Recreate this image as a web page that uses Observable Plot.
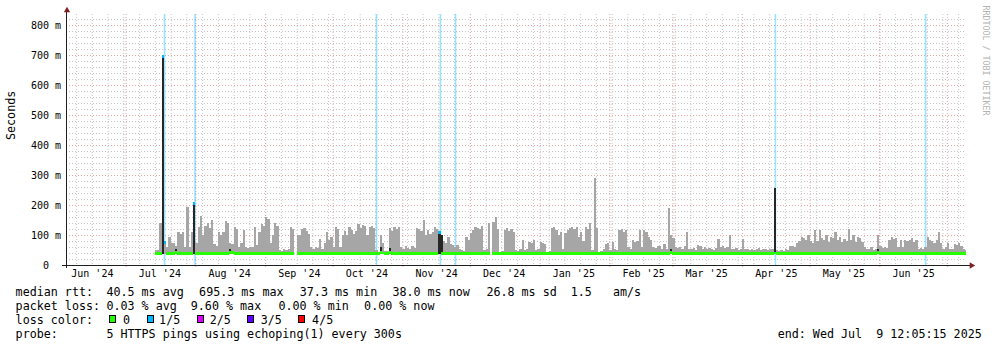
<!DOCTYPE html>
<html><head><meta charset="utf-8">
<script src="https://cdn.jsdelivr.net/npm/d3@7"></script>
<script src="https://cdn.jsdelivr.net/npm/@observablehq/plot@0.6"></script>
<style>
html,body{margin:0;padding:0;background:#fff;}
#chart{position:relative;width:997px;height:347px;overflow:hidden;background:#fff;font-family:"DejaVu Sans Mono",monospace;}
#chart svg{position:absolute;left:0;top:0;}
.t{position:absolute;font-size:11.7px;line-height:14px;white-space:pre;color:#000;}
.box{position:absolute;box-sizing:border-box;width:7px;height:8px;border:1px solid #000;}
</style></head><body><div id="chart"></div>
<script>
// ---- data ----
const startTime = new Date("2024-06-04T12:05:15Z");
const endTime = new Date("2025-07-09T12:05:15Z");
const firstDay = "2024-07-14";
const smokeMin = 37;
// smoke top (ms), one value per day from firstDay
const smokeMax = [
50,50,140,140,75,60,95,73,75,65,110,105,110,60,195,60,110,130,75,127,
165,100,130,140,125,150,70,65,110,100,110,147,140,75,70,127,120,60,75,117,
60,58,60,60,127,67,110,138,130,160,155,73,100,140,130,50,48,52,50,55,
127,120,null,100,100,120,125,115,105,60,55,60,58,88,55,75,110,85,95,60,
127,120,60,100,115,100,127,117,105,115,138,125,133,130,100,127,130,125,50,45,
100,75,47,48,123,115,127,120,127,60,55,65,58,55,62,58,123,120,115,150,
100,117,105,110,127,120,110,100,80,75,95,70,67,60,67,55,50,48,93,85,
107,117,127,123,120,130,50,52,140,null,145,160,120,45,47,117,123,115,120,110,
50,48,55,83,50,52,78,75,85,50,55,78,75,70,45,48,123,127,117,100,
110,55,107,117,125,127,120,127,95,110,80,127,120,140,50,290,123,45,48,55,
70,73,50,78,55,50,117,120,110,118,60,55,82,78,80,117,60,117,110,93,
85,60,58,62,65,55,70,55,190,100,90,60,58,60,55,62,110,55,52,57,
50,67,65,55,60,52,57,55,50,58,88,60,62,58,60,100,55,52,57,50,
55,88,55,52,50,55,50,52,57,50,53,55,50,52,55,60,50,48,50,47,
52,50,62,65,60,73,80,95,90,85,100,80,75,117,80,117,90,85,100,78,
93,90,110,85,93,77,88,80,120,85,100,77,95,90,77,60,55,52,60,50,
55,100,65,58,60,57,85,93,88,90,60,83,60,85,80,83,90,78,85,55,
58,52,60,93,85,80,75,85,110,72,55,60,75,52,55,70,68,72,65,55,50];
// median rtt (ms), one value per day from firstDay
const medianRtt = [
38,38,38,695,75,39,38,38,39,41,38,38,38,38,39,38,38,205,39,38,
38,39,38,38,38,38,39,38,38,38,38,38,39,41,41,38,38,38,38,38,
38,38,38,38,39,38,38,38,38,38,39,38,38,38,38,38,38,38,38,39,
38,38,null,38,38,38,39,38,38,38,38,38,38,38,38,38,39,38,38,38,
38,38,39,38,38,38,38,38,38,38,38,38,38,38,39,38,38,38,38,38,
41,40,38,38,41,39,38,38,38,38,38,38,39,38,38,38,39,38,38,38,
38,39,38,38,38,38,108,38,38,38,38,38,38,38,38,38,38,38,38,38,
38,38,39,38,38,38,38,38,38,null,38,38,38,38,38,39,38,38,38,38,
38,38,38,38,39,38,38,38,38,38,38,38,39,38,38,38,38,38,38,38,
38,38,38,38,38,39,38,38,38,38,38,38,38,38,38,38,38,39,38,38,
38,38,39,38,38,38,38,38,38,38,38,39,38,38,38,38,38,38,39,38,
38,38,38,38,38,39,38,38,38,41,38,38,38,38,38,38,38,38,39,38,
38,38,38,38,38,39,38,38,38,38,38,38,38,38,38,39,38,38,38,38,
38,38,38,38,39,38,38,38,38,38,38,38,38,38,38,40,38,38,38,38,
38,38,38,38,38,38,38,39,38,38,38,38,38,38,38,38,38,39,38,38,
38,38,38,38,38,38,38,38,39,38,38,38,38,38,38,38,38,38,38,38,
38,41,38,38,38,38,38,38,38,38,38,38,38,38,38,38,38,38,38,38,
38,38,38,38,38,38,38,38,38,38,38,38,38,38,38,38,38,38,38,38,38];
// dense (dark) smoke days
const darkDays = ["2024-07-17","2024-07-23","2024-07-31","2024-08-16","2024-10-22","2024-10-26","2024-11-17","2024-11-18","2025-02-28","2025-04-15","2025-05-31"];
const darkTop = [695,55,207,55,60,58,110,100,55,257,55];
// days where the median had packet loss (in fifths)
const lossDays = ["2024-07-17","2024-07-18","2024-07-31","2024-11-17"];
const lossLevel = [1,1,1,1];
// loss background stripes
const lossLineTimes = ["2024-07-18T02:00Z","2024-07-31T15:00Z","2024-10-20T07:00Z","2024-11-17T17:00Z","2024-11-24T10:00Z","2025-04-15T14:00Z","2025-06-21T07:00Z"];
const lossLineLevel = [1,1,1,1,1,1,1];
const lossColors = ["#26ff00","#00b8ff","#dd00ff","#5e00ff","#ff0000"];
const lossLabels = ["0","1/5","2/5","3/5","4/5"];
const yTop = 836.7;
const yTicks = [0,100,200,300,400,500,600,700,800];
const yTickLabels = ["0\u00a0\u00a0","100 m","200 m","300 m","400 m","500 m","600 m","700 m","800 m"];
const monthStarts = ["2024-06-01","2024-07-01","2024-08-01","2024-09-01","2024-10-01","2024-11-01","2024-12-01","2025-01-01","2025-02-01","2025-03-01","2025-04-01","2025-05-01","2025-06-01","2025-07-01"];
const monthLabels = ["Jun '24","Jul '24","Aug '24","Sep '24","Oct '24","Nov '24","Dec '24","Jan '25","Feb '25","Mar '25","Apr '25","May '25","Jun '25"];
const yAxisLabel = "Seconds";
const watermark = "RRDTOOL / TOBI OETIKER";
const rttLabel = "median rtt:";
const rttStats = ["40.5 ms avg","695.3 ms max","37.3 ms min","38.0 ms now","26.8 ms sd","1.5   am/s"];
const lossLabel = "packet loss:";
const lossStats = ["0.03 % avg","9.60 % max","0.00 % min","0.00 % now"];
const colorLabel = "loss color:";
const probeLabel = "probe:";
const probeText = "5 HTTPS pings using echoping(1) every 300s";
const endText = "end: Wed Jul  9 12:05:15 2025";

// ---- build ----
const dayMs = 864e5;
const t0 = new Date(firstDay + "T00:00:00Z").getTime();
const lossMap = new Map(lossDays.map((d, i) => [new Date(d + "T00:00:00Z").getTime(), lossLevel[i]]));
const rows = smokeMax.map((v, i) => {
  const a = t0 + i * dayMs;
  return {x1: new Date(a), x2: new Date(Math.min(a + dayMs, endTime.getTime())), smoke: v, med: medianRtt[i], loss: lossMap.get(a) ?? 0};
});
const darkRows = darkDays.map((d, i) => {
  const a = new Date(d + "T00:00:00Z").getTime();
  return {x1: new Date(a), x2: new Date(a + dayMs), top: darkTop[i]};
});
const xDomain = [startTime, endTime];
const monthDates = monthStarts.map(d => new Date(d + "T00:00:00Z"));
const monthGrid = monthDates.filter(d => d > startTime && d < endTime);
const labelDates = monthDates.slice(0, monthLabels.length).map(d => d3.utcDay.offset(d, 15));
const weekGrid = d3.utcSunday.range(startTime, endTime);
const yMinor = d3.range(20, yTop, 20).filter(v => v % 100 !== 0);
const yMajor = yTicks.filter(v => v > 0);
const lossLines = lossLineTimes.map(s => new Date(s));

const medianMarks = lossColors.map((c, k) =>
  Plot.rect(rows.filter(r => r.med != null && r.loss === k), {
    x1: "x1", x2: "x2", y1: r => r.med - 4.5, y2: r => r.med + 4.5, fill: c, shapeRendering: "crispEdges"
  }));

const chart = Plot.plot({
  width: 997, height: 285,
  marginLeft: 66, marginRight: 31, marginTop: 14, marginBottom: 20,
  x: {type: "utc", domain: xDomain, axis: null},
  y: {domain: [0, yTop], axis: null},
  style: {background: "#fff", fontFamily: '"DejaVu Sans Mono", monospace', fontSize: "10px", color: "#000", overflow: "visible"},
  marks: [
    Plot.ruleY(yMinor, {stroke: "#c6c6c6", strokeDasharray: "1,2"}),
    Plot.ruleX(weekGrid, {stroke: "#c6c6c6", strokeDasharray: "1,2"}),
    Plot.ruleY(yMajor, {stroke: "#e6a4a4", strokeDasharray: "1,2"}),
    Plot.ruleX(monthGrid, {stroke: "#e6a4a4", strokeDasharray: "1,2", insetBottom: -3}),
    Plot.ruleX(lossLines, {stroke: (d, i) => lossColors[lossLineLevel[i]], strokeOpacity: 0.4, strokeWidth: 1.6}),
    Plot.rect(rows.filter(r => r.smoke != null), {x1: "x1", x2: "x2", y1: smokeMin, y2: "smoke", fill: "#a6a6a6", shapeRendering: "crispEdges"}),
    Plot.rect(darkRows, {x1: "x1", x2: "x2", y1: smokeMin, y2: "top", fill: "#262626", shapeRendering: "crispEdges"}),
    ...medianMarks,
    Plot.ruleY([0], {stroke: "#1f1f1f", insetLeft: -4, insetRight: -4}),
    Plot.ruleX([startTime], {stroke: "#1f1f1f", insetTop: -5, insetBottom: -3}),
    Plot.dot([endTime], {x: d => d, y: () => 0, symbol: "triangle2", rotate: 90, r: 3, fill: "#7f1f1f", stroke: null, dx: 5}),
    Plot.dot([startTime], {x: d => d, y: () => yTop, symbol: "triangle2", r: 3, fill: "#7f1f1f", stroke: null, dx: 0.5, dy: -4}),
    Plot.text(yTicks, {y: d => d, frameAnchor: "left", dx: -5.5, textAnchor: "end", text: (d, i) => yTickLabels[i], fontSize: 10, fill: "#000"}),
    Plot.text(monthLabels, {x: (d, i) => labelDates[i], frameAnchor: "bottom", dy: 11, textAnchor: "middle", text: d => d, fontSize: 10, fill: "#000"}),
    Plot.text([yAxisLabel], {frameAnchor: "left", dx: -55, rotate: -90, text: d => d, fontSize: 11.7, fill: "#000"}),
    Plot.text([watermark], {frameAnchor: "top-right", dx: 22, dy: -9, rotate: 90, textAnchor: "start", text: d => d, fontSize: 8.3, fill: "#b3b3b3"})
  ]
});
const root = document.getElementById("chart");
root.appendChild(chart);

function put(text, x, top) {
  const el = document.createElement("div");
  el.className = "t"; el.textContent = text;
  el.style.left = x + "px"; el.style.top = top + "px";
  root.appendChild(el);
}
const rowTop = [285, 299, 313, 327];
put(rttLabel, 15.6, rowTop[0]);
[106.4, 199.1, 299.8, 392.4, 486.4, 570.7].forEach((x, i) => put(rttStats[i], x, rowTop[0]));
put(lossLabel, 15.6, rowTop[1]);
[106.4, 190.8, 278.4, 364.1].forEach((x, i) => put(lossStats[i], x, rowTop[1]));
put(colorLabel, 15.6, rowTop[2]);
const boxX = [109, 146.5, 197, 247, 298];
const labX = [123.1, 159.1, 209.8, 260.8, 312.1];
lossColors.forEach((c, i) => {
  const b = document.createElement("div");
  b.className = "box"; b.style.background = c;
  b.style.left = boxX[i] + "px"; b.style.top = "315px";
  root.appendChild(b);
  put(lossLabels[i], labX[i], rowTop[2]);
});
put(probeLabel, 15.6, rowTop[3]);
put(probeText, 106.4, rowTop[3]);
put(endText, 777.7, rowTop[3]);
</script></body></html>
